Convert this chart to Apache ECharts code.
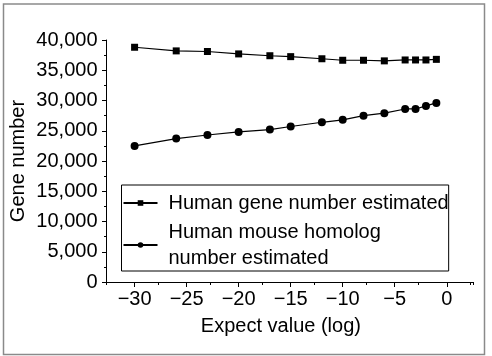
<!DOCTYPE html>
<html>
<head>
<meta charset="utf-8">
<script src="https://cdn.jsdelivr.net/npm/echarts@6/dist/echarts.min.js"></script>
<style>
  html, body { margin: 0; padding: 0; background: #fff; }
  #chart { width: 492px; height: 356px; }
</style>
</head>
<body>
<div id="chart"></div>
<script>
// expect value (log) of each estimate
const expectX = [-30, -26, -23, -20, -17, -15, -12, -10, -8, -6, -4, -3, -2, -1];
// human gene number estimated
const geneEst = [38800, 38200, 38100, 37700, 37400, 37250, 36900, 36650, 36650, 36550, 36700, 36700, 36700, 36800];
// human mouse homolog number estimated
const homologEst = [22500, 23700, 24300, 24800, 25200, 25700, 26400, 26800, 27500, 27900, 28600, 28600, 29100, 29600];
const xTicks = [-30, -25, -20, -15, -10, -5, 0];
const seriesNames = ["Human gene number estimated", "Human mouse homolog\nnumber estimated"];

const font = "Liberation Sans";
const xMin = -32.7, xMax = 2.55;
const minorShift = 2.5; // helper axis shifted half a step, its ticks fall between the labelled ones
const fmtX = v => String(v).replace("-", "\u2212");

let myChart = echarts.init(document.getElementById("chart"));
myChart.setOption({
  animation: false,
  textStyle: { fontFamily: font, color: "#000" },
  grid: {
    left: 106.5,
    right: 18.7,
    top: 40,
    bottom: 74,
    outerBoundsMode: "none",
    containLabel: false
  },
  graphic: [
    {
      type: "rect",
      shape: { x: 3.5, y: 4, width: 481, height: 350.5 },
      style: { fill: "none", stroke: "#8a8a8a", lineWidth: 1.5 },
      silent: true
    }
  ],
  legend: {
    orient: "vertical",
    left: 121.5,
    top: 185,
    padding: [5, 0, 0, 1],
    itemGap: 3,
    itemWidth: 34,
    itemHeight: 7,
    borderColor: "#000",
    borderWidth: 1,
    textStyle: { fontFamily: font, fontSize: 20, color: "#000", lineHeight: 26, padding: [0, 0, 0, 6] },
    data: seriesNames
  },
  xAxis: [
    {
      type: "value",
      min: xMin,
      max: xMax,
      name: "Expect value (log)",
      nameLocation: "middle",
      nameGap: 34,
      nameMoveOverlap: false,
      nameTextStyle: { fontFamily: font, fontSize: 20, color: "#000", padding: [0, 18, 0, 0] },
      splitLine: { show: false },
      axisLine: { show: true, onZero: false, lineStyle: { color: "#000", width: 1 } },
      axisTick: { show: true, length: 5, customValues: xTicks, lineStyle: { color: "#000" } },
      axisLabel: {
        customValues: xTicks,
        margin: 7,
        fontSize: 20,
        color: "#000",
        fontFamily: font,
        formatter: fmtX
      }
    },
    {
      // minor ticks only
      type: "value",
      show: true,
      min: xMin + minorShift,
      max: xMax + minorShift,
      interval: 5,
      splitNumber: 7,
      position: "bottom",
      offset: 0,
      splitLine: { show: false },
      axisLine: { show: true, onZero: false, lineStyle: { color: "rgba(0,0,0,0)", width: 1 } },
      axisTick: { show: true, inside: false, length: 3, lineStyle: { color: "#000", width: 1 } },
      axisLabel: { show: true, color: "rgba(0,0,0,0)", fontSize: 1, formatter: () => " " }
    }
  ],
  yAxis: {
    type: "value",
    min: 0,
    max: 40000,
    interval: 5000,
    name: "Gene number",
    nameLocation: "middle",
    nameGap: 78,
    nameMoveOverlap: false,
    nameTextStyle: { fontFamily: font, fontSize: 20, color: "#000" },
    splitLine: { show: false },
    axisLine: { show: true, onZero: false, lineStyle: { color: "#000", width: 1 } },
    axisTick: { show: true, length: 4.5, lineStyle: { color: "#000" } },
    minorTick: { show: true, splitNumber: 2, length: 2.5, lineStyle: { color: "#000" } },
    axisLabel: {
      margin: 9,
      fontSize: 20,
      color: "#000",
      fontFamily: font,
      formatter: v => v.toLocaleString("en-US")
    }
  },
  series: [
    {
      name: seriesNames[0],
      type: "line",
      symbol: "rect",
      symbolSize: 7,
      itemStyle: { color: "#000" },
      lineStyle: { color: "#000", width: 1.2 },
      data: expectX.map((x, i) => [x, geneEst[i]])
    },
    {
      name: seriesNames[1],
      type: "line",
      symbol: "circle",
      symbolSize: 8,
      itemStyle: { color: "#000" },
      lineStyle: { color: "#000", width: 1.2 },
      data: expectX.map((x, i) => [x, homologEst[i]])
    }
  ]
});
</script>
</body>
</html>
